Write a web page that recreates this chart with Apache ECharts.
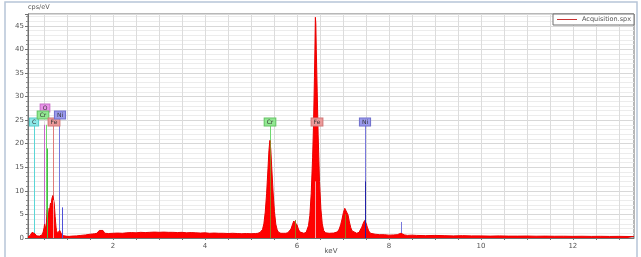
<!DOCTYPE html>
<html><head><meta charset="utf-8">
<script src="https://cdn.jsdelivr.net/npm/echarts@6/dist/echarts.min.js"></script>
<style>html,body{margin:0;padding:0;background:#fff}#c{width:641px;height:257px}</style>
</head><body><div id="c"></div>
<script>
// Spectrum (keV, cps/eV)
const spectrumKeV = [
 0.15,0.18,0.20,0.22,0.24,0.26,0.28,0.30,0.32,0.34,0.36,0.38,0.40,0.42,0.44,0.46,0.48,0.50,0.51,0.52,
 0.53,0.54,0.55,0.56,0.57,0.58,0.59,0.60,0.61,0.62,0.63,0.64,0.65,0.66,0.67,0.68,0.69,0.70,0.71,0.72,
 0.73,0.74,0.75,0.76,0.77,0.78,0.79,0.80,0.81,0.82,0.83,0.84,0.85,0.86,0.87,0.88,0.90,0.92,0.95,1.00,
 1.05,1.10,1.20,1.30,1.40,1.50,1.55,1.60,1.65,1.70,1.74,1.78,1.82,1.86,1.90,2.00,2.10,2.20,2.30,2.40,
 2.50,2.60,2.70,2.80,2.90,3.00,3.10,3.20,3.30,3.40,3.50,3.60,3.70,3.80,3.90,4.00,4.10,4.20,4.30,4.40,
 4.50,4.60,4.70,4.80,4.90,5.00,5.10,5.15,5.20,5.22,5.25,5.28,5.31,5.34,5.37,5.39,5.41,5.43,5.45,5.48,
 5.51,5.54,5.57,5.60,5.65,5.70,5.75,5.80,5.84,5.87,5.90,5.93,5.95,5.97,6.00,6.03,6.06,6.10,6.15,6.20,
 6.22,6.25,6.28,6.31,6.34,6.36,6.38,6.39,6.40,6.41,6.42,6.44,6.46,6.49,6.52,6.55,6.58,6.62,6.70,6.80,
 6.88,6.92,6.95,6.98,7.01,7.04,7.06,7.08,7.11,7.14,7.17,7.20,7.24,7.30,7.35,7.38,7.41,7.44,7.47,7.50,
 7.53,7.56,7.60,7.70,7.80,7.90,8.00,8.10,8.18,8.22,8.26,8.30,8.34,8.40,8.50,8.60,8.80,9.00,9.20,9.40,
 9.60,9.80,10.0,10.2,10.4,10.6,10.8,11.0,11.2,11.4,11.6,11.8,12.0,12.2,12.4,12.6,12.8,13.0,13.2,13.33
];
const spectrumCps = [
 0.2,0.4,0.6,0.9,1.2,1.4,1.3,0.9,0.6,0.45,0.4,0.35,0.4,0.45,0.5,0.7,1.3,2.2,2.9,2.4,
 1.8,2.6,3.2,4.5,6.0,5.2,4.4,5.5,6.3,5.6,6.8,7.4,6.6,7.6,8.4,8.0,9.0,9.2,8.6,7.4,
 6.0,4.6,3.4,2.3,1.6,1.2,1.0,1.3,0.9,1.1,1.4,1.6,1.7,1.4,1.0,0.8,0.6,0.5,0.4,0.35,
 0.35,0.4,0.45,0.55,0.65,0.8,0.85,0.9,1.0,1.6,1.9,1.6,1.0,0.9,0.95,1.0,1.05,1.0,1.1,1.15,
 1.1,1.2,1.15,1.2,1.25,1.2,1.25,1.2,1.2,1.15,1.2,1.1,1.15,1.1,1.05,1.1,1.0,1.05,1.0,1.0,
 0.95,1.0,0.95,0.9,0.95,0.9,0.95,1.0,1.2,1.3,1.8,3.0,5.5,9.5,14.8,18.5,20.7,18.8,15.2,9.8,
 5.6,2.9,1.7,1.2,1.0,1.0,1.0,1.1,1.3,1.9,2.8,3.6,3.9,3.6,2.8,1.9,1.3,1.0,1.0,1.2,
 1.6,2.6,4.8,9.5,17,24,34,40,46.8,45.5,40,31,22,12,6.2,3.0,1.6,1.1,1.0,1.05,
 1.3,1.9,2.8,4.0,5.4,6.3,6.5,6.1,4.9,3.4,2.2,1.5,1.1,1.0,1.2,1.6,2.3,3.1,3.7,3.2,
 2.3,1.5,1.0,0.8,0.7,0.7,0.6,0.65,0.7,0.9,1.0,0.85,0.65,0.55,0.6,0.55,0.5,0.55,0.5,0.45,
 0.5,0.45,0.45,0.4,0.45,0.4,0.4,0.42,0.38,0.4,0.37,0.38,0.35,0.37,0.34,0.36,0.33,0.35,0.32,0.3
];
// element marker lines: [keV, top cps, style]
const markerLinesBack = [
 [0.27,24.0,'C'],[0.50,24.0,'O'],[0.55,24.0,'Cr'],[0.70,24.0,'Fe'],[0.83,24.0,'Ni'],
 [5.41,23.8,'Cr'],[6.40,23.8,'Fe'],[7.47,23.8,'Ni'],[8.26,3.4,'Ni']
];
const markerLinesFront = [
 [0.555,12,'CrIn'],[0.57,19,'CrIn'],[0.70,8,'FeIn'],[0.88,6.5,'NiIn'],
 [5.41,20.5,'Olive'],[5.95,3.8,'Olive'],[6.40,12,'FeIn'],[7.05,5,'Olive'],[7.47,12,'NiDark']
];
// element labels: [keV, cps, text, style]
const elementLabels = [
 [0.27,24.7,'C','C'],[0.53,27.6,'O','O'],[0.47,26.0,'Cr','Cr'],[0.71,24.7,'Fe','Fe'],[0.85,26.1,'Ni','Ni'],
 [5.42,24.6,'Cr','Cr'],[6.43,24.6,'Fe','Fe'],[7.48,24.6,'Ni','Ni']
];
const xTickValues = [0.5,1,1.5,2,2.5,3,3.5,4,4.5,5,5.5,6,6.5,7,7.5,8,8.5,9,9.5,10,10.5,11,11.5,12,12.5,13];
const xLabelValues = [2,4,6,8,10,12];
const seriesName = 'Acquisition.spx';

const styles = {
 C:{line:'#5ad6d6', box:'#8ce8e8', border:'#5ccaca'},
 O:{line:'#c864c8', box:'#e892e8', border:'#c870c8'},
 Cr:{line:'#6fd86f', box:'#92e892', border:'#66c266'},
 Fe:{line:'#de7a7a', box:'#ec9a9a', border:'#d07878'},
 Ni:{line:'#7878dc', box:'#9a9aec', border:'#7070cc'},
 CrIn:{line:'#44c044'}, FeIn:{line:'#f2a0a0'}, NiIn:{line:'#5050d8'},
 NiDark:{line:'#2020a8'}, Olive:{line:'#9a7a1e'}
};
const FONT = '"DejaVu Sans", sans-serif';
const spectrum = spectrumKeV.map((k,i)=>[k, spectrumCps[i]]);

function lineRenderer(src){
  return function(params, api){
    const d = src[params.dataIndex];
    const p0 = api.coord([d[0],0]), p1 = api.coord([d[0],d[1]]);
    const x = Math.round(p0[0]) + 0.5;
    return {type:'line', shape:{x1:x,y1:p0[1],x2:x,y2:p1[1]}, style:{stroke:styles[d[2]].line, lineWidth:1}};
  };
}

const chart = echarts.init(document.getElementById('c'), null, {renderer:'canvas'});
chart.setOption({
  animation:false,
  backgroundColor:'#fff',
  textStyle:{fontFamily:FONT},
  color:['#e80000'],
  grid:{left:28,right:7,top:14,bottom:19,show:true,borderColor:'#707070',borderWidth:1,backgroundColor:'transparent',
        outerBoundsMode:'none', containLabel:false},
  legend:{
    show:true, left:553, top:14, orient:'horizontal',
    data:[seriesName], icon:'path://M0,0L20,0L20,1L0,1Z',
    itemWidth:20, itemHeight:1.5,
    itemStyle:{color:'#c83232', borderColor:'#c83232', borderWidth:0, opacity:1},
    lineStyle:{color:'#c83232', width:1, inactiveColor:'#c83232'},
    backgroundColor:'#fff', borderColor:'#707070', borderWidth:1, borderRadius:0, padding:[2,3,2,4], itemGap:4,
    textStyle:{fontSize:6.5,color:'#555',fontFamily:FONT}
  },
  xAxis:{
    type:'value', min:0.15, max:13.33,
    name:'keV', nameLocation:'middle', nameGap:10, nameMoveOverlap:false, nameTextStyle:{fontSize:7,color:'#555',verticalAlign:'top'},
    axisLine:{lineStyle:{color:'#707070'}},
    axisTick:{customValues:xTickValues, length:2, lineStyle:{color:'#707070'}},
    axisLabel:{customValues:xLabelValues, fontSize:7, color:'#555', margin:5},
    splitLine:{show:true, lineStyle:{color:'#dcdcdc',width:1}}
  },
  yAxis:{
    type:'value', min:0, max:47.5, interval:5,
    name:'cps/eV', nameLocation:'end', nameGap:3, nameTextStyle:{fontSize:6.5,color:'#555',align:'left'},
    axisLine:{show:true,lineStyle:{color:'#707070'}},
    axisTick:{show:true,length:3,lineStyle:{color:'#707070'}},
    minorTick:{show:true,splitNumber:5,length:2,lineStyle:{color:'#909090'}},
    axisLabel:{fontSize:7,color:'#555',margin:4,showMaxLabel:false},
    splitLine:{show:true,lineStyle:{color:'#d8d8d8'}},
    minorSplitLine:{show:true,lineStyle:{color:'#ececec'}}
  },
  graphic:[{type:'rect', shape:{x:5,y:2,width:632,height:262}, style:{fill:'none',stroke:'#b7c5d7',lineWidth:1.5}, z:100}],
  series:[
    {type:'custom', name:'back', z:1, renderItem:lineRenderer(markerLinesBack), data:markerLinesBack.map(d=>[d[0],d[1]]), silent:true},
    {type:'line', name:seriesName, z:2, data:spectrum, symbol:'none', color:'#e80000', lineStyle:{color:'#e80000',width:1}, itemStyle:{color:'#c83232'},
     areaStyle:{color:'#ff0000',opacity:1}},
    {type:'custom', name:'front', z:3, renderItem:lineRenderer(markerLinesFront), data:markerLinesFront.map(d=>[d[0],d[1]]), silent:true},
    {type:'custom', name:'labels', z:4, silent:true, data:elementLabels.map(d=>[d[0],d[1]]),
     renderItem:function(params, api){
       const d = elementLabels[params.dataIndex];
       const p = api.coord([d[0],d[1]]);
       const s = styles[d[3]];
       return {type:'text', x:Math.round(p[0]), y:Math.round(p[1]), style:{text:d[2], align:'center', verticalAlign:'middle',
         font:'6px '+FONT, fill:'#333', backgroundColor:s.box, borderColor:s.border, borderWidth:1, padding:[1,2,0,2]}};
     }}
  ]
});
</script></body></html>
